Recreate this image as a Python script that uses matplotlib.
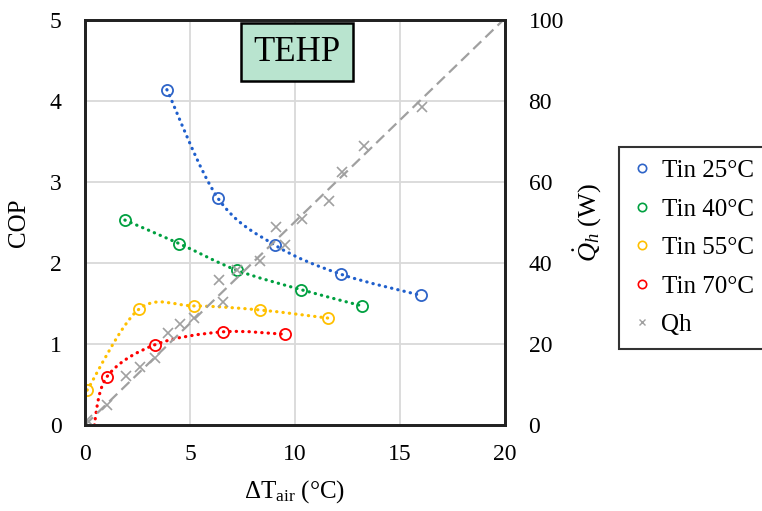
import numpy as np
import matplotlib
matplotlib.use("Agg")
import matplotlib.pyplot as plt
from matplotlib.path import Path
from matplotlib.patches import PathPatch

plt.rcParams['font.family'] = ['Liberation Serif', 'DejaVu Serif']
plt.rcParams['mathtext.fontset'] = 'custom'
plt.rcParams['mathtext.rm'] = 'Liberation Serif'
plt.rcParams['mathtext.it'] = 'Liberation Serif:italic'

# ---- data ----
x25 = [3.90, 6.33, 9.05, 12.20, 16.00]
cop25 = [4.14, 2.80, 2.22, 1.86, 1.60]
x40 = [1.90, 4.48, 7.24, 10.30, 13.20]
cop40 = [2.53, 2.24, 1.91, 1.67, 1.47]
x55 = [0.10, 2.57, 5.19, 8.33, 11.57]
cop55 = [0.43, 1.43, 1.47, 1.42, 1.32]
# first red point sits just below the visible range (hidden by the axis)
x70 = [0.40, 1.03, 3.32, 6.55, 9.52]
cop70 = [-0.08, 0.59, 0.99, 1.15, 1.12]
xq = [0.10, 1.03, 1.95, 2.62, 3.33, 3.93, 4.52, 5.21, 6.36, 6.57, 7.24,
      8.33, 9.10, 9.52, 10.33, 11.60, 12.26, 13.30, 16.03]
qh = [1.2, 4.9, 12.1, 14.4, 16.5, 22.6, 24.9, 26.5, 35.7, 30.4, 38.3,
      40.6, 49.0, 44.4, 50.9, 55.3, 62.5, 68.8, 78.4]

c_blue = '#2E64C8'
c_green = '#00A040'
c_yellow = '#FFC000'
c_red = '#FF0000'
c_gray = '#A0A0A0'

fig = plt.figure(figsize=(7.62, 5.11), dpi=100)
ax = fig.add_axes([85/762, 1-425/511, 420/762, 405/511])
ax2 = ax.twinx()


def smooth_line(axis, x, y, color):
    """Excel-style smoothed line: cubic Bezier segments through the points."""
    P = np.column_stack([x, y]).astype(float)
    n = len(P)
    verts = [tuple(P[0])]
    codes = [Path.MOVETO]
    for i in range(n - 1):
        p_prev = P[max(i - 1, 0)]
        p_next2 = P[min(i + 2, n - 1)]
        c1 = P[i] + (P[i + 1] - p_prev) / 6.0
        c2 = P[i + 1] - (p_next2 - P[i]) / 6.0
        verts += [tuple(c1), tuple(c2), tuple(P[i + 1])]
        codes += [Path.CURVE4] * 3
    patch = PathPatch(Path(verts, codes), facecolor='none', edgecolor=color,
                      linewidth=2.3, linestyle=(0, (0.1, 1.9)))
    patch.set_capstyle('round')
    axis.add_patch(patch)


smooth_line(ax, x25, cop25, '#1F5FCC')
smooth_line(ax, x40, cop40, c_green)
smooth_line(ax, x55, cop55, c_yellow)
smooth_line(ax, x70, cop70, c_red)

mk = dict(marker='o', linestyle='none', markersize=8, markerfacecolor='none',
          markeredgewidth=1.3)
ax.plot(x25, cop25, markeredgecolor=c_blue, **mk)
ax.plot(x40, cop40, markeredgecolor=c_green, **mk)
ax.plot(x55, cop55, markeredgecolor=c_yellow, **mk)
ax.plot(x70, cop70, markeredgecolor=c_red, **mk)

# Qh: linear trend through the origin, extended to the axis end
slope = np.sum(np.array(xq) * np.array(qh)) / np.sum(np.array(xq) ** 2)
t = np.array([0, 20])
ax2.plot(t, slope * t, color=c_gray, linestyle=(0, (5, 2.6)), linewidth=1.6)
ax2.plot(xq, qh, marker='x', linestyle='none', color=c_gray,
         markersize=6.5, markeredgewidth=1.2)

ax.set_xlim(0, 20)
ax.set_ylim(0, 5)
ax2.set_ylim(0, 100)
ax.set_xticks([0, 5, 10, 15, 20])
ax.set_yticks([0, 1, 2, 3, 4, 5])
ax2.set_yticks([0, 20, 40, 60, 80, 100])
ax.grid(True, color='#D9D9D9', linewidth=1.3)
ax.set_axisbelow(True)
for a in (ax, ax2):
    a.tick_params(length=0, labelsize=17)
    for s in a.spines.values():
        s.set_linewidth(2)
        s.set_color('#222222')
ax.tick_params(axis='y', pad=17)
ax.tick_params(axis='x', pad=14)
ax2.tick_params(axis='y', pad=17)

ax.set_ylabel('COP', fontsize=18, labelpad=14)
ax.set_xlabel('ΔT$_{\\mathrm{air}}$ (°C)', fontsize=18, labelpad=9)
ax2.set_ylabel('$\\dot{Q}_h$ (W)', fontsize=19, rotation=90, labelpad=5)

ax.text(0.505, 0.92, 'TEHP', transform=ax.transAxes, fontsize=25,
        ha='center', va='center', zorder=10,
        bbox=dict(boxstyle='square,pad=0.36', facecolor='#B9E4CF',
                  edgecolor='black', linewidth=1.8))

leg_handles = []
for c in (c_blue, c_green, c_yellow, c_red):
    leg_handles.append(plt.Line2D([], [], marker='o', linestyle='none',
                                  markersize=6, markerfacecolor='none',
                                  markeredgecolor=c, markeredgewidth=1.2))
leg_handles.append(plt.Line2D([], [], marker='x', linestyle='none',
                              markersize=4.5, color=c_gray, markeredgewidth=1))
leg = fig.legend(leg_handles, ['Tin 25°C', 'Tin 40°C', 'Tin 55°C', 'Tin 70°C', 'Qh'],
                 loc='upper left', bbox_to_anchor=(619/762, 1-147/511),
                 fontsize=18, frameon=True, fancybox=False, edgecolor='black',
                 handlelength=0.8, handletextpad=0.4, labelspacing=0.64,
                 borderpad=0.5, borderaxespad=0)
leg.get_frame().set_linewidth(1.5)

fig.savefig('out.png', dpi=100)
